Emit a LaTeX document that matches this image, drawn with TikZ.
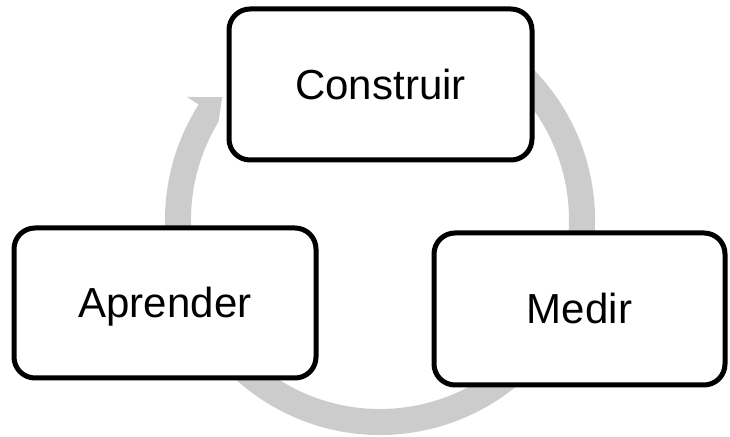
\documentclass[tikz,border=0pt]{standalone}
\usepackage{fontspec}
\setmainfont{Liberation Sans}
\usetikzlibrary{calc}
\definecolor{cyclegray}{RGB}{204,204,204}
\tikzset{
  stagebox/.style={draw=black, fill=white, line width=5pt, rounded corners=21pt,
    inner sep=0pt, font=\fontsize{42}{50}\selectfont,
    text height=30pt, text depth=0pt, align=center},
}
\begin{document}
\begin{tikzpicture}[x=1pt, y=1pt]
\useasboundingbox (0,0) rectangle (730,436);
% centre of the cycle arrow
\coordinate (C) at (380,216);
% circular arrow running clockwise behind the three stages
\fill[cyclegray]
  ($(C)+(60:215pt)$) arc[start angle=60, end angle=-212.5, radius=215pt]
  -- ($(C)+(147.5:229pt)$)
  -- ($(C)+(142.1:200pt)$)
  -- ($(C)+(148.7:189pt)$)
  arc[start angle=-211.3, end angle=60, radius=189pt]
  -- cycle;
% the three stages
\node[stagebox, minimum width=303pt, minimum height=151pt] (construir) at (380.5,351.5) {Construir};
\node[stagebox, minimum width=302pt, minimum height=150pt] (aprender) at (165,133) {Aprender};
\node[stagebox, minimum width=291pt, minimum height=152pt] (medir) at (579.5,127) {Medir};
\end{tikzpicture}
\end{document}
